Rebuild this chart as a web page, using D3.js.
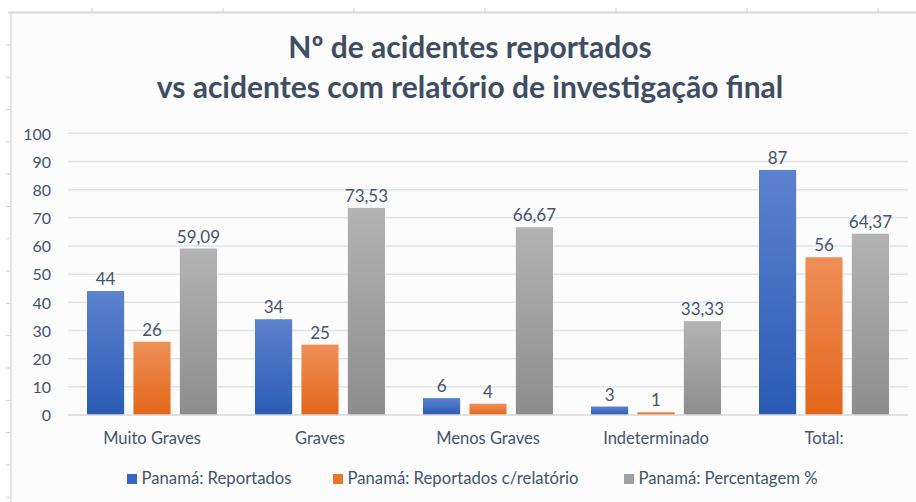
<!DOCTYPE html>
<html>
<head>
<meta charset="utf-8">
<script src="https://cdn.jsdelivr.net/npm/d3@7"></script>
<style>
  html, body { margin: 0; padding: 0; background: #ffffff; }
  svg { display: block; }
  text { font-family: Lato, "Open Sans", sans-serif; }
</style>
</head>
<body>
<svg id="chart" width="916" height="502"></svg>
<script>
// ---- data ----
const categories = ["Muito Graves", "Graves", "Menos Graves", "Indeterminado", "Total:"];
const seriesNames = ["Panamá: Reportados", "Panamá: Reportados c/relatório", "Panamá: Percentagem %"];
const reportados = [44, 34, 6, 3, 87];
const comRelatorio = [26, 25, 4, 1, 56];
const percentagem = [59.09, 73.53, 66.67, 33.33, 64.37];
const yTicks = [0, 10, 20, 30, 40, 50, 60, 70, 80, 90, 100];
const titleLines = ["Nº de acidentes reportados", "vs acidentes com relatório de investigação final"];

const seriesValues = [reportados, comRelatorio, percentagem];
const colors = [
  { top: "#5d82cf", bottom: "#2a5bb4", legend: "#3566c4" },
  { top: "#ef8f58", bottom: "#e3661b", legend: "#ed7528" },
  { top: "#b3b3b3", bottom: "#8d8d8d", legend: "#a0a0a0" }
];
const textColor = "#44546a";

const svg = d3.select("#chart");

// spreadsheet frame behind the chart
svg.append("rect").attr("x", 11).attr("y", 13).attr("width", 905).attr("height", 489).attr("fill", "#fcfcfc");
svg.append("line").attr("x1", 8).attr("x2", 916).attr("y1", 12.5).attr("y2", 12.5)
  .attr("stroke", "#d6d6d6").attr("stroke-width", 2);
svg.append("line").attr("x1", 11).attr("x2", 11).attr("y1", 12).attr("y2", 502)
  .attr("stroke", "#dcdde5").attr("stroke-width", 1.5);
d3.range(92, 916, 131).forEach(x => {
  svg.append("line").attr("x1", x).attr("x2", x).attr("y1", 8).attr("y2", 12)
    .attr("stroke", "#cfcfcf").attr("stroke-width", 1);
});
d3.range(45, 502, 32.3).forEach(y => {
  svg.append("line").attr("x1", 6).attr("x2", 10).attr("y1", y).attr("y2", y)
    .attr("stroke", "#cfd0d8").attr("stroke-width", 1);
});

// title
const title = svg.append("text").attr("text-anchor", "middle")
  .attr("font-weight", 700).attr("font-size", 30).attr("fill", "#3f4d63");
title.selectAll("tspan").data(titleLines).join("tspan")
  .attr("x", 470).attr("y", (d, i) => 58 + i * 40).text(d => d);

// scales
const x0 = d3.scaleBand().domain(categories).range([68, 908]).paddingInner(0).paddingOuter(0);
const x1 = d3.scaleBand().domain(d3.range(3)).range([19, 149]).paddingInner(0.2).paddingOuter(0);
const y = d3.scaleLinear().domain([0, 100]).range([415, 133.3]);

// gradients
const defs = svg.append("defs");
colors.forEach((c, i) => {
  const g = defs.append("linearGradient").attr("id", "grad" + i)
    .attr("x1", 0).attr("y1", 0).attr("x2", 0).attr("y2", 1);
  g.append("stop").attr("offset", "0%").attr("stop-color", c.top);
  g.append("stop").attr("offset", "100%").attr("stop-color", c.bottom);
});

// gridlines
svg.append("g").selectAll("line").data(yTicks.filter(d => d > 0)).join("line")
  .attr("x1", 68).attr("x2", 908).attr("y1", d => y(d)).attr("y2", d => y(d))
  .attr("stroke", "#e0e3e8").attr("stroke-width", 1.5);

// y axis labels
const yAxis = d3.axisLeft(y).tickValues(yTicks).tickSize(0).tickPadding(0).tickFormat(d3.format("d"));
const yg = svg.append("g").attr("transform", "translate(51,0)").call(yAxis);
yg.select(".domain").remove();
yg.selectAll("text").attr("font-size", 16).attr("fill", textColor)
  .attr("font-family", "Lato, sans-serif").attr("dy", "0.36em");

// bars
const fmt = v => Number.isInteger(v) ? String(v) : d3.format(".2f")(v).replace(".", ",");
const groups = svg.append("g").selectAll("g").data(categories).join("g")
  .attr("transform", d => `translate(${x0(d)},0)`);
groups.selectAll("rect").data((d, ci) => seriesValues.map((s, si) => ({ si, v: s[ci] }))).join("rect")
  .attr("x", d => x1(d.si)).attr("width", x1.bandwidth())
  .attr("y", d => y(d.v)).attr("height", d => y(0) - y(d.v))
  .attr("fill", d => `url(#grad${d.si})`);
groups.selectAll("text").data((d, ci) => seriesValues.map((s, si) => ({ si, v: s[ci] }))).join("text")
  .attr("x", d => x1(d.si) + x1.bandwidth() / 2).attr("y", d => y(d.v) - 6)
  .attr("text-anchor", "middle").attr("font-size", 17).attr("fill", textColor)
  .text(d => fmt(d.v));

// baseline
svg.append("line").attr("x1", 68).attr("x2", 908).attr("y1", y(0)).attr("y2", y(0))
  .attr("stroke", "#d9d9d9").attr("stroke-width", 1.5);

// x axis labels
const xAxis = d3.axisBottom(x0).tickSize(0).tickPadding(0);
const xg = svg.append("g").attr("transform", `translate(0,${y(0)})`).call(xAxis);
xg.select(".domain").remove();
xg.selectAll("text").attr("font-size", 16.5).attr("fill", textColor)
  .attr("font-family", "Lato, sans-serif").attr("dy", 0).attr("y", 29);

// legend
const legendX = [127, 333, 624];
const leg = svg.append("g").selectAll("g").data(seriesNames).join("g")
  .attr("transform", (d, i) => `translate(${legendX[i]},474)`);
leg.append("rect").attr("width", 10).attr("height", 10).attr("fill", (d, i) => colors[i].legend);
leg.append("text").attr("x", 14.5).attr("y", 10).attr("font-size", 16.7).attr("fill", textColor).text(d => d);
</script>
</body>
</html>
